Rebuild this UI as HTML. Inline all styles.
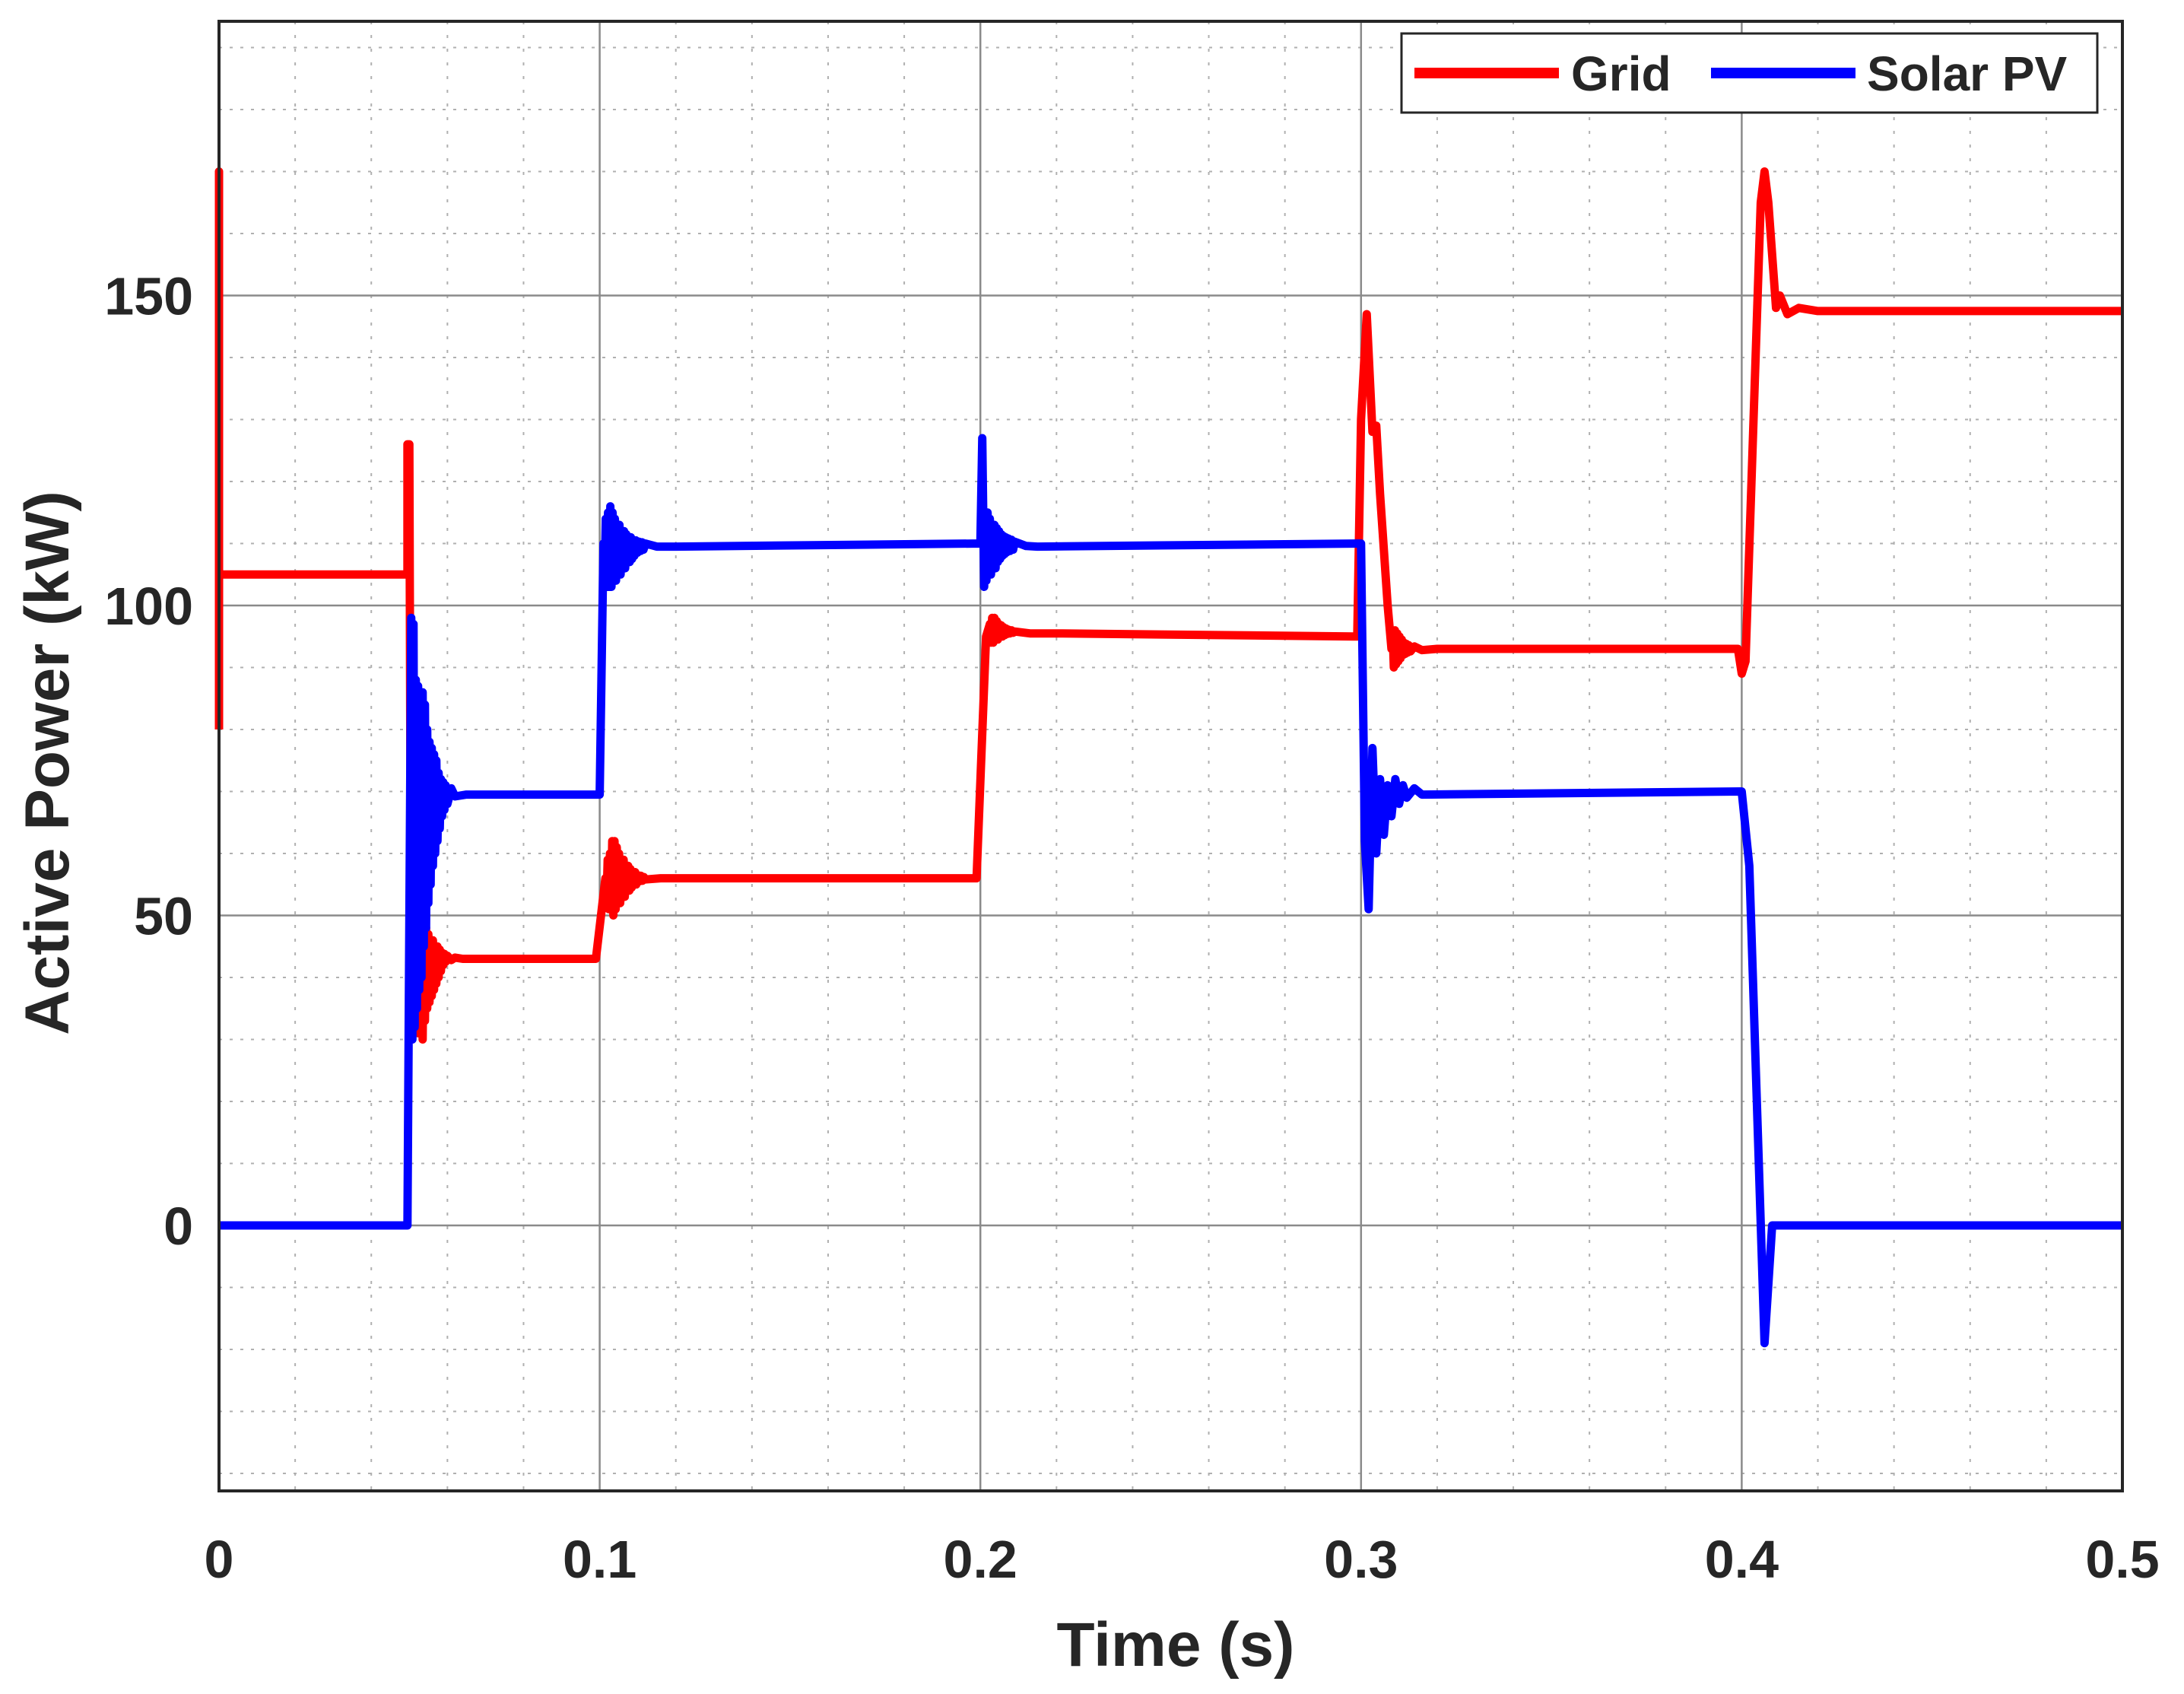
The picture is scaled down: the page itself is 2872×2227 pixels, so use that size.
<!DOCTYPE html>
<html><head><meta charset="utf-8"><style>
html,body{margin:0;padding:0;background:#fff;}
svg text{font-family:"Liberation Sans",Arial,sans-serif;font-weight:bold;fill:#262626;}
</style></head><body>
<svg id="chart" width="2872" height="2222" viewBox="0 0 2872 2222" xmlns="http://www.w3.org/2000/svg">
<rect x="0" y="0" width="2872" height="2222" fill="#fff"/>
<g id="grid"></g>
<g id="series"></g>
<g id="axes"></g>
<text x="1546" y="2190" font-size="82" text-anchor="middle">Time (s)</text>
<text transform="translate(90,1003) rotate(-90)" font-size="82" text-anchor="middle">Active Power (kW)</text>
<g>
<rect x="1843" y="44" width="915" height="104" fill="#fff" stroke="#262626" stroke-width="3"/>
<line x1="1860" y1="96" x2="2050" y2="96" stroke="#ff0000" stroke-width="14"/>
<text x="2066" y="119" font-size="64">Grid</text>
<line x1="2250" y1="96" x2="2440" y2="96" stroke="#0000ff" stroke-width="14"/>
<text x="2455" y="119" font-size="64">Solar PV</text>
</g>
</svg>
<script>
const xTicks = [0, 0.1, 0.2, 0.3, 0.4, 0.5];
const xTickLabels = ["0", "0.1", "0.2", "0.3", "0.4", "0.5"];
const yTicks = [0, 50, 100, 150];
const yTickLabels = ["0", "50", "100", "150"];
const gridSeries = [
[0,80],[0,170],[0,105],[0.049,105],[0.0495,105],[0.0495,126],[0.05,126],[0.0505,30],
[0.0508,50],[0.0511,31],[0.0514,52],[0.0517,32],[0.052,53],[0.0523,31],[0.0526,53],[0.0529,32],[0.0532,52],[0.0535,30],
[0.0538,50],[0.0541,33],[0.0544,48],[0.0547,35],[0.055,47],[0.0553,36],[0.0556,46],[0.0559,37],[0.0562,46],[0.0565,38],
[0.0568,45],[0.0571,39],[0.0574,45],[0.0577,40],[0.058,44.5],[0.0583,41],[0.0586,44],[0.0589,42],[0.0592,43.8],[0.0595,42.5],
[0.06,43.5],[0.061,42.8],[0.062,43.2],[0.064,43],[0.099,43],[0.1015,56],
[0.1018,52],[0.1021,59],[0.1024,51],[0.1027,60],[0.103,51],[0.1033,62],[0.1036,50],[0.1039,62],[0.1042,51],[0.1045,61],
[0.1048,52],[0.1051,60],[0.1054,52],[0.1057,59],[0.106,53],[0.1063,59],[0.1066,53],[0.1069,58],[0.1072,54],[0.1075,58],
[0.1078,54],[0.1081,57.5],[0.1084,54.5],[0.1087,57],[0.109,55],[0.1093,57],[0.1096,55],[0.11,56.5],[0.1104,55.5],[0.1108,56.4],
[0.1112,55.6],[0.1116,56.2],[0.112,55.8],[0.116,56],[0.12,56],[0.199,56],[0.2015,95],
[0.2025,97],[0.2028,94],[0.2031,98],[0.2034,94],[0.2037,98],[0.204,94.5],[0.2043,97.5],[0.2046,94.5],[0.2049,97],[0.2052,95],
[0.2055,96.8],[0.2058,95],[0.2061,96.5],[0.2064,95.2],[0.2067,96.3],[0.207,95.4],[0.2074,96.1],[0.2078,95.5],[0.2082,96],[0.2086,95.6],
[0.209,95.8],[0.213,95.5],[0.22,95.5],[0.299,95],
[0.3,130],[0.3015,147],[0.303,128],[0.304,129],[0.305,118],[0.307,100],[0.308,93],
[0.3083,96],[0.3086,90],[0.3089,96],[0.3092,90.5],[0.3095,95.5],[0.3098,91],[0.3101,95],[0.3104,91.5],[0.3107,94.5],[0.311,92],
[0.3113,94],[0.3116,92.2],[0.3119,93.8],[0.3122,92.4],[0.3125,93.6],[0.313,92.6],[0.314,93.4],[0.316,92.8],[0.32,93],
[0.399,93],[0.4,89],[0.401,91],[0.405,165],[0.406,170],[0.407,165],[0.409,148],[0.41,150],[0.412,147],[0.415,148],[0.42,147.5],[0.5,147.5]
];
const solarSeries = [
[0,0],[0.0495,0],[0.0505,98],
[0.0508,30],[0.0511,97],[0.0514,32],[0.0517,88],[0.052,35],[0.0523,87],[0.0526,38],[0.0529,86],[0.0532,40],[0.0535,86],
[0.0538,45],[0.0541,84],[0.0544,48],[0.0547,80],[0.055,52],[0.0553,78],[0.0556,55],[0.0559,77],[0.0562,58],[0.0565,76],
[0.0568,60],[0.0571,75],[0.0574,62],[0.0577,73],[0.058,64],[0.0583,72],[0.0586,66],[0.0589,71.5],[0.0592,67],[0.0595,71],
[0.06,68],[0.061,70.5],[0.062,69.2],[0.065,69.5],[0.1,69.5],[0.101,110],
[0.1013,104],[0.1016,114],[0.1019,103],[0.1022,115],[0.1025,103],[0.1028,116],[0.1031,103],[0.1034,115],[0.1037,104],[0.104,114],
[0.1043,104],[0.1046,113],[0.1049,105],[0.1052,113],[0.1055,105],[0.1058,112],[0.1061,106],[0.1064,112],[0.1067,106],[0.107,111.5],
[0.1073,107],[0.1076,111],[0.1079,107],[0.1082,111],[0.1085,107.5],[0.1088,110.5],[0.1091,108],[0.1095,110.5],[0.1099,108.5],[0.1103,110.3],
[0.1107,108.8],[0.1111,110.2],[0.1115,109],[0.112,110],[0.115,109.5],[0.12,109.5],[0.2,110],
[0.2005,127],[0.201,103],[0.2013,114],[0.2016,104],[0.2019,115],[0.2022,105],[0.2025,114],[0.2028,105],[0.2031,113],[0.2034,106],
[0.2037,113],[0.204,106],[0.2043,112.5],[0.2046,107],[0.2049,112],[0.2052,107.5],[0.2055,111.5],[0.2058,108],[0.2061,111.2],[0.2064,108.3],
[0.2067,111],[0.207,108.6],[0.2074,110.8],[0.2078,108.8],[0.2082,110.6],[0.2086,109],[0.209,110.3],[0.212,109.6],[0.215,109.5],[0.3,110],
[0.301,62],[0.302,51],[0.303,77],[0.304,60],[0.305,72],[0.306,63],[0.307,71],[0.308,66],[0.309,72],[0.31,68],[0.311,71],[0.312,69],[0.314,70.5],[0.316,69.5],
[0.4,70],[0.402,58],[0.406,-19],[0.408,0],[0.5,0]
];

const L=288,R=2791,T=28,B=1960,Y0=1611,PPU=8.15;
const X=t=>L+(t-0)/0.5*(R-L);
const Y=v=>Y0-v*PPU;
const NS="http://www.w3.org/2000/svg";
function mk(tag,attrs,parent){const e=document.createElementNS(NS,tag);for(const k in attrs)e.setAttribute(k,attrs[k]);parent.appendChild(e);return e;}
const g=document.getElementById('grid'),s=document.getElementById('series'),a=document.getElementById('axes');
const vMax=(Y0-T)/PPU;
for(let i=1;i<25;i++){const t=i*0.02; if(i%5===0)continue;
 const e=mk('line',{x1:X(t),y1:T,x2:X(t),y2:B,stroke:'#b0b0b0','stroke-width':2,'stroke-dasharray':'4 14'},g);
 
 }
for(let v=-40;v<=vMax;v+=10){ if(v%50===0)continue;
 const e=mk('line',{x1:L,y1:Y(v),x2:R,y2:Y(v),stroke:'#b0b0b0','stroke-width':2,'stroke-dasharray':'4 10'},g);
 
 }
xTicks.forEach((t,i)=>{
 const e=mk('line',{x1:X(t),y1:T,x2:X(t),y2:B,stroke:'#8a8a8a','stroke-width':2.5},g);
 
 
 const tx=mk('text',{x:X(t),y:2074,'font-size':70,'text-anchor':'middle'},a);
 tx.textContent=xTickLabels[i];
 
 
});
yTicks.forEach((v,i)=>{
 const e=mk('line',{x1:L,y1:Y(v),x2:R,y2:Y(v),stroke:'#8a8a8a','stroke-width':2.5},g);
 
 
 const tx=mk('text',{x:254,y:Y(v)+25,'font-size':70,'text-anchor':'end'},a);
 tx.textContent=yTickLabels[i];
 
 
});
function line(pts,color,name){
 const d=pts.map((p,i)=>(i?'L':'M')+X(p[0]).toFixed(1)+' '+Y(p[1]).toFixed(1)).join(' ');
 const e=mk('path',{d:d,fill:'none',stroke:color,'stroke-width':11,'stroke-linejoin':'round'},s);
 
 
}
line(gridSeries,'#ff0000','grid-power-line');
line(solarSeries,'#0000ff','solar-pv-power-line');
const box=mk('rect',{x:L,y:T,width:R-L,height:B-T,fill:'none',stroke:'#262626','stroke-width':4},a);


</script>
</body></html>
